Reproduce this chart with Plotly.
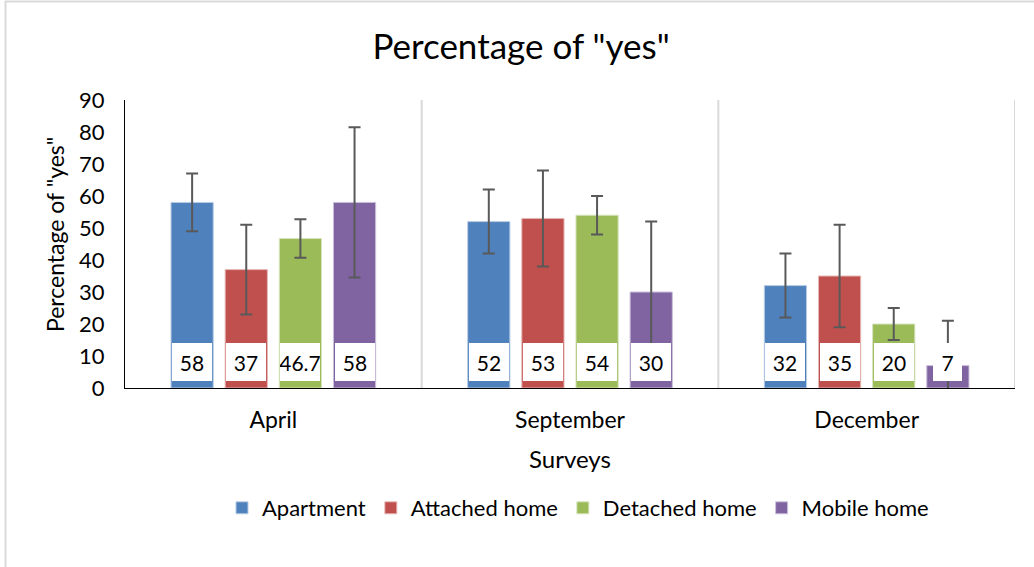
import plotly.graph_objects as go

surveys = ["April", "September", "December"]
series_names = ["Apartment", "Attached home", "Detached home", "Mobile home"]
apartment = [58, 52, 32]
attached = [37, 53, 35]
detached = [46.7, 54, 20]
mobile = [58, 30, 7]
apartment_err = [9, 10, 10]
attached_err = [14, 15, 16]
detached_err = [6, 6, 5]
mobile_err = [23.5, 22, 14]
label_texts = [["58", "52", "32"], ["37", "53", "35"], ["46.7", "54", "20"], ["58", "30", "7"]]

colors = ["#4F81BD", "#C0504D", "#9BBB59", "#8064A2"]
outline = ["#B9CDE5", "#E6B9B8", "#D7E4BD", "#CCC1DA"]
values = [apartment, attached, detached, mobile]
errors = [apartment_err, attached_err, detached_err, mobile_err]

FONT = "Lato"
W, H = 1034, 567
ML, MR, MT, MB = 125, 19, 100, 179
bargap = 0.27
bargroupgap = 0.22

fig = go.Figure()
for name, vals, errs, col, oc in zip(series_names, values, errors, colors, outline):
    fig.add_trace(go.Bar(
        name=name, x=list(range(len(surveys))), y=vals,
        marker=dict(color=col, line=dict(width=1, color=oc)),
        error_y=dict(type="data", array=errs, visible=True,
                     color="#595959", thickness=2, width=6),
    ))

pw = W - ML - MR
ph = H - MT - MB


def px_x(p):
    return (p - ML) / pw


def px_y(p):
    return (H - MB - p) / ph


# data labels (white boxes near base)
slot = (1 - bargap) / 4
annotations = []
for si, texts in enumerate(label_texts):
    for ci, t in enumerate(texts):
        annotations.append(dict(
            x=ci + (si - 1.5) * slot, y=8.1, xref="x", yref="y",
            text=t, showarrow=False,
            font=dict(family=FONT, size=21, color="black"),
            bgcolor="white", borderwidth=0, borderpad=0,
            width=40 if len(t) > 1 else 29, height=38,
            xanchor="center", yanchor="middle",
        ))
# y axis title
annotations.append(dict(
    x=px_x(55), y=px_y(235), xref="paper", yref="paper",
    text='Percentage of "yes"', showarrow=False, textangle=-90,
    font=dict(family=FONT, size=23, color="black"),
    xanchor="center", yanchor="middle",
))

shapes = []
for xb in [0.5, 1.5, 2.5]:
    shapes.append(dict(type="line", xref="x", yref="y", x0=xb, x1=xb, y0=0, y1=90,
                       line=dict(color="#D9D9D9", width=2), layer="below"))
# outer chart border
shapes.append(dict(type="rect", xref="paper", yref="paper",
                   x0=px_x(5.5), x1=px_x(W + 20), y0=px_y(H + 20), y1=px_y(1.5),
                   line=dict(color="#D9D9D9", width=2)))

fig.update_layout(
    width=W, height=H,
    margin=dict(l=ML, r=MR, t=MT, b=MB),
    paper_bgcolor="white", plot_bgcolor="white",
    barmode="group", bargap=bargap, bargroupgap=bargroupgap,
    font=dict(family=FONT, size=22, color="black"),
    title=dict(text='Percentage of "yes"', xref="paper", x=px_x(521), xanchor="center",
               yref="container", y=1 - 47 / H, yanchor="middle",
               font=dict(family=FONT, size=35, color="black")),
    xaxis=dict(range=[-0.5, 2.5], tickmode="array", tickvals=[0, 1, 2], ticktext=surveys,
               showline=True, linecolor="black", linewidth=1, ticks="", showgrid=False,
               zeroline=False, tickfont=dict(size=23), automargin=False,
               ticklabelstandoff=11,
               title=dict(text="Surveys", font=dict(size=24), standoff=19)),
    yaxis=dict(range=[0, 90], dtick=10, showline=True, linecolor="black", linewidth=1,
               ticks="", showgrid=False, zeroline=False, tickfont=dict(size=22),
               ticklabelstandoff=15, automargin=False),
    legend=dict(orientation="h", x=px_x(578), xanchor="center",
                y=px_y(508), yanchor="middle",
                font=dict(size=22), itemwidth=30, traceorder="normal"),
    annotations=annotations,
    shapes=shapes,
    showlegend=True,
)

fig.write_html("out.html", post_script="document.body.style.margin='0';",
               config={"displayModeBar": False})
